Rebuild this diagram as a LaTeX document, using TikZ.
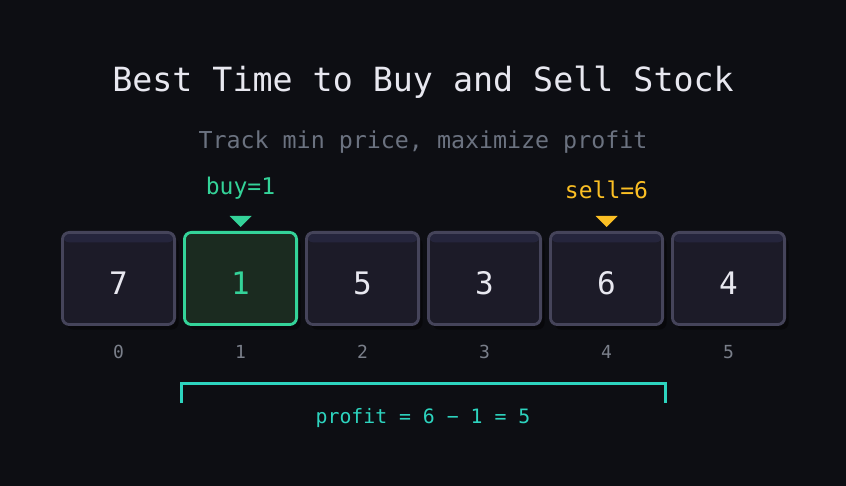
\documentclass[tikz,border=0pt]{standalone}
\usepackage{fontspec}
\setmonofont{DejaVu Sans Mono}
\usetikzlibrary{shadows}
\definecolor{bg}{HTML}{0D0E13}
\definecolor{cellfill}{HTML}{1C1B28}
\definecolor{cellline}{HTML}{45445A}
\definecolor{cellband}{HTML}{25253C}
\definecolor{buyfill}{HTML}{1B2B20}
\definecolor{buyc}{HTML}{34D399}
\definecolor{sellc}{HTML}{FBBF24}
\definecolor{profc}{HTML}{2DD4BF}
\definecolor{txt}{HTML}{E8E8F0}
\definecolor{subtxt}{HTML}{6B7280}
\definecolor{idxtxt}{HTML}{7A7F8A}
\definecolor{shade}{HTML}{08080B}

\tikzset{
  cell/.style={draw=cellline, line width=2.8pt, fill=cellfill, rounded corners=7pt,
    minimum width=112.2pt, minimum height=92.2pt, inner sep=0pt, text=txt,
    text height=32.6pt, text depth=0pt,
    font=\ttfamily\fontsize{31}{31}\selectfont,
    drop shadow={shadow xshift=4pt, shadow yshift=-5pt, fill=shade, opacity=1},
    path picture={\fill[cellband] (path picture bounding box.north west)
      rectangle ([yshift=-10pt]path picture bounding box.north east);}},
  pick/.style={cell, draw=buyc, fill=buyfill, text=buyc, path picture={}},
  idx/.style={text=idxtxt, font=\ttfamily\fontsize{18}{18}\selectfont},
  tag/.style={font=\ttfamily\fontsize{23}{23}\selectfont}
}

\begin{document}
\begin{tikzpicture}[x=1pt, y=1pt]
	\fill[bg] (0,0) rectangle (846,-486);
	\useasboundingbox (0,0) rectangle (846,-486);

	\node[text=txt, font=\ttfamily\fontsize{33.3}{33.3}\selectfont] (title) at (423,-82.5) {Best Time to Buy and Sell Stock};
	\node[text=subtxt, font=\ttfamily\fontsize{23.3}{23.3}\selectfont] (sub) at (423,-142) {Track min price, maximize profit};

	\node[cell] (c0) at (118.5,-278.5) {7};
	\node[pick] (c1) at (240.5,-278.5) {1};
	\node[cell] (c2) at (362.5,-278.5) {5};
	\node[cell] (c3) at (484.5,-278.5) {3};
	\node[cell] (c4) at (606.5,-278.5) {6};
	\node[cell] (c5) at (728.5,-278.5) {4};

	\node[idx] (i0) at (118.5,-352) {0};
	\node[idx] (i1) at (240.5,-352) {1};
	\node[idx] (i2) at (362.5,-352) {2};
	\node[idx] (i3) at (484.5,-352) {3};
	\node[idx] (i4) at (606.5,-352) {4};
	\node[idx] (i5) at (728.5,-352) {5};

	% markers
	\node[tag, text=buyc] (buy) at (240.5,-188.5) {buy=1};
	\fill[buyc] (229.5,-216) -- (251.5,-216) -- (240.5,-227) -- cycle;
	\node[tag, text=sellc] (sell) at (606.5,-189.5) {sell=6};
	\fill[sellc] (595.5,-216) -- (617.5,-216) -- (606.5,-227) -- cycle;

	% profit bracket
	\coordinate (bl) at (181.5,-403);
	\coordinate (br) at (665.5,-403);
	\draw[profc, line width=3pt] (bl) |- (423,-383) -| (br);
	\node[text=profc, font=\ttfamily\fontsize{19.8}{19.8}\selectfont] (profit) at (423,-418.5) {profit = 6 − 1 = 5};
\end{tikzpicture}
\end{document}
